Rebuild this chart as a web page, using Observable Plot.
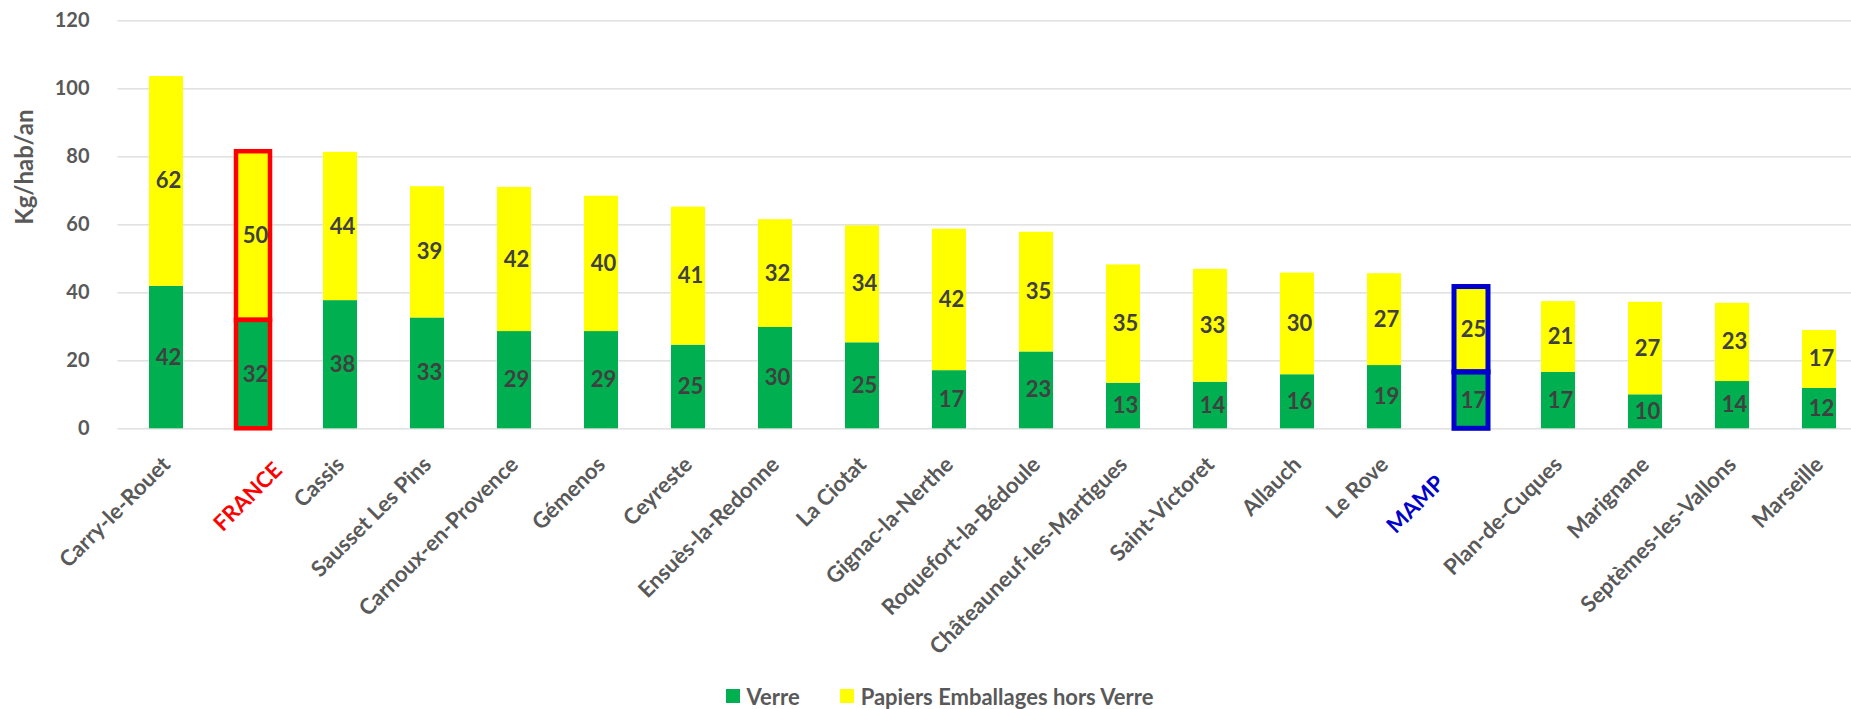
<!DOCTYPE html>
<html><head><meta charset="utf-8">
<script src="https://cdn.jsdelivr.net/npm/d3@7"></script>
<script src="https://cdn.jsdelivr.net/npm/@observablehq/plot@0.6"></script>
<style>
body{margin:0;background:#fff;font-family:Lato, sans-serif;overflow:hidden;}
#legend{display:flex;justify-content:center;align-items:center;height:28px;padding-left:28px;font-weight:bold;font-size:22px;color:#595959;}
.item{display:flex;align-items:center;}
.item + .item{margin-left:40px;}
.sw{width:14px;height:14px;margin-right:7px;}
</style></head><body>
<div id="chart"></div><div id="legend"></div>
<script>
const cities = ["Carry-le-Rouet","FRANCE","Cassis","Sausset Les Pins","Carnoux-en-Provence","Gémenos","Ceyreste","Ensuès-la-Redonne","La Ciotat","Gignac-la-Nerthe","Roquefort-la-Bédoule","Châteauneuf-les-Martigues","Saint-Victoret","Allauch","Le Rove","MAMP","Plan-de-Cuques","Marignane","Septèmes-les-Vallons","Marseille"];
const verre = [41.9,31.9,37.7,32.6,28.6,28.6,24.6,29.8,25.3,17.1,22.6,13.4,13.7,15.9,18.6,16.6,16.6,10.0,13.9,11.9];
const papiers = [61.7,49.6,43.6,38.6,42.4,39.8,40.6,31.7,34.4,41.6,35.2,34.8,33.2,29.9,27.0,25.1,20.8,27.2,23.0,17.0];
const seriesNames = ["Verre","Papiers Emballages hors Verre"];
const seriesColors = ["#00B050","#FFFF00"];
const yTicks = [0,20,40,60,80,100,120];
const yTitle = "Kg/hab/an";
const highlightCities = ["FRANCE","MAMP"];
const highlightColors = ["#FF0000","#0000CC"];

const rows = [];
cities.forEach((c,i)=>{
  rows.push({city:c, series:seriesNames[0], value:verre[i], y1:0, y2:verre[i]});
  rows.push({city:c, series:seriesNames[1], value:papiers[i], y1:verre[i], y2:verre[i]+papiers[i]});
});

const H = 682;
const xAxisCommon = {tickSize:0, tickRotate:-45, textAnchor:"end", lineAnchor:"top", fontSize:22, label:null};

const chart = Plot.plot({
  width:1851, height:H,
  marginLeft:117.5, marginRight:-16.5, marginTop:20.3, marginBottom:H-428.3,
  x:{domain:cities, paddingInner:0.606, paddingOuter:0.303},
  y:{domain:[0,120]},
  color:{domain:seriesNames, range:seriesColors},
  style:{fontFamily:"Lato, sans-serif", fontWeight:"bold", background:"#fff"},
  marks:[
    Plot.gridY(yTicks, {stroke:"#D9D9D9", strokeOpacity:1, strokeWidth:1.3}),
    Plot.axisY(yTicks, {tickSize:0, tickPadding:28.5, fontSize:20, fill:"#595959", label:null}),
    Plot.barY(rows, {x:"city", y1:"y1", y2:"y2", fill:"series"}),
    Plot.barY(rows, {filter:d=>d.city===highlightCities[0], x:"city", y1:"y1", y2:"y2", fill:"none", stroke:highlightColors[0], strokeWidth:4.5}),
    Plot.barY(rows, {filter:d=>d.city===highlightCities[1], x:"city", y1:"y1", y2:"y2", fill:"none", stroke:highlightColors[1], strokeWidth:5}),
    Plot.text(rows, {x:"city", y:d=>(d.y1+d.y2)/2, text:d=>String(Math.round(d.value)), fill:"#404040", fontSize:22, dx:2}),
    Plot.axisX(cities.filter(c=>!highlightCities.includes(c)), {...xAxisCommon, tickPadding:26, dx:-6, fill:"#595959"}),
    Plot.axisX([highlightCities[0]], {...xAxisCommon, tickPadding:31.7, dx:19, fill:highlightColors[0]}),
    Plot.axisX([highlightCities[1]], {...xAxisCommon, tickPadding:44.7, dx:-37, fill:highlightColors[1]}),
    Plot.text([yTitle], {frameAnchor:"left", text:d=>d, rotate:-90, dx:-92.5, fontSize:24, fill:"#595959"})
  ]
});
document.getElementById("chart").appendChild(chart);

const legend = document.getElementById("legend");
seriesNames.forEach((n,i)=>{
  const it = document.createElement("div"); it.className="item";
  const sw = document.createElement("div"); sw.className="sw"; sw.style.background=seriesColors[i];
  const t = document.createElement("span"); t.textContent=n;
  it.appendChild(sw); it.appendChild(t); legend.appendChild(it);
});
</script>
</body></html>
